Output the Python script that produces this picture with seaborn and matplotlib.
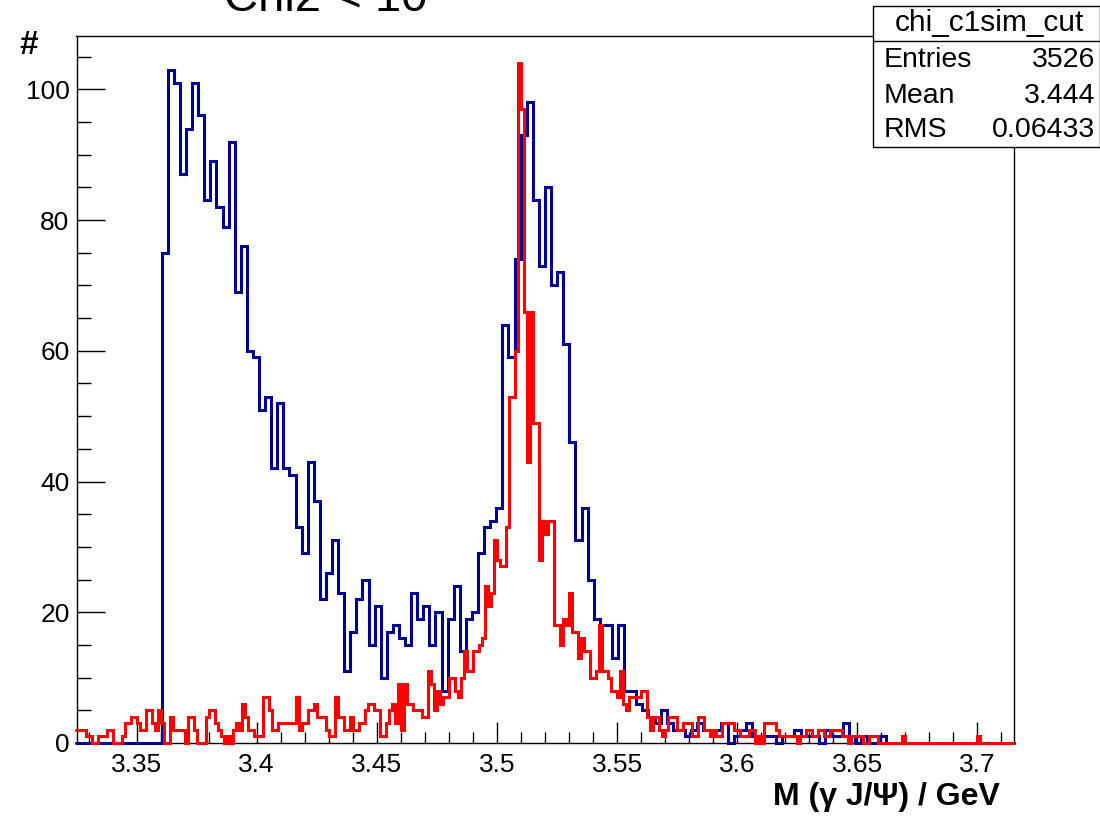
import numpy as np
import pandas as pd
import matplotlib
matplotlib.use("Agg")
import matplotlib.pyplot as plt
import seaborn as sns
from matplotlib.patches import Rectangle
from matplotlib.lines import Line2D
from matplotlib.ticker import FixedLocator, MultipleLocator

# Histogram range (GeV)
x_lo, x_hi = 3.325, 3.715

# Blue: 156 bins of 2.5 MeV
blue_counts = [
    0, 0, 0, 0, 0, 0, 0, 0, 0, 0, 0, 0, 0, 0,
    75, 103, 101, 87, 94, 101, 96, 83, 89, 82, 79, 92, 69, 76, 60, 59,
    51, 53, 42, 52, 42, 41, 33, 29, 43, 37, 22, 26, 31, 23, 11, 17,
    22, 25, 15, 21, 10, 17, 18, 16, 15, 23, 19, 21, 15, 20, 8, 19,
    24, 14, 19, 20, 29, 33, 34, 36, 64, 59, 74, 93, 98, 83, 73, 85,
    70, 72, 61, 46, 31, 36, 25, 19, 18, 18, 13, 18, 8, 8, 6, 5,
    4, 3, 5, 3, 2, 2, 1, 2, 3, 2, 2, 2, 3, 0, 1, 2,
    3, 1, 1, 1, 1, 0, 1, 1, 2, 1, 1, 1, 0, 2, 1, 1,
    3, 1, 0, 1, 0, 0, 1, 0, 0, 0, 0, 0, 0, 0, 0, 0,
    0, 0, 0, 0, 0, 0, 0, 0, 0, 0, 0, 0,
]

# Red: 312 bins of 1.25 MeV
red_counts = [
    2, 2, 2, 1, 1, 0, 0, 1, 1, 1,
    2, 2, 0, 0, 0, 1, 3, 3, 4, 4,
    3, 2, 2, 5, 5, 3, 2, 5, 3, 0,
    0, 4, 2, 2, 2, 2, 0, 4, 4, 2,
    0, 0, 0, 4, 5, 5, 3, 2, 1, 0,
    1, 0, 2, 3, 2, 6, 4, 2, 2, 1,
    1, 1, 7, 7, 5, 2, 2, 3, 3, 3,
    3, 3, 3, 7, 2, 3, 3, 5, 5, 6,
    4, 4, 4, 2, 1, 1, 7, 4, 4, 2,
    2, 4, 2, 2, 3, 3, 5, 6, 6, 5,
    5, 1, 1, 3, 5, 6, 3, 9, 2, 9,
    6, 6, 5, 5, 5, 4, 4, 11, 9, 5,
    8, 6, 7, 7, 10, 10, 8, 7, 10, 14,
    11, 11, 14, 14, 15, 16, 24, 21, 23, 31,
    28, 27, 27, 33, 53, 53, 60, 104, 97, 66,
    43, 66, 49, 49, 28, 34, 32, 34, 34, 18,
    18, 15, 19, 18, 23, 17, 17, 13, 16, 14,
    14, 10, 10, 11, 18, 11, 11, 10, 8, 8,
    7, 11, 6, 5, 7, 7, 7, 7, 8, 8,
    4, 2, 4, 4, 2, 1, 2, 4, 4, 4,
    2, 2, 3, 3, 3, 1, 1, 4, 4, 2,
    2, 1, 2, 1, 1, 3, 3, 3, 3, 2,
    2, 1, 1, 1, 2, 2, 0, 1, 0, 3,
    3, 3, 3, 2, 1, 1, 1, 1, 1, 1,
    0, 1, 1, 2, 2, 1, 1, 2, 2, 1,
    1, 2, 2, 2, 2, 1, 1, 0, 1, 1,
    1, 1, 0, 0, 1, 1, 1, 0, 0, 0,
    0, 0, 0, 0, 0, 1, 0, 0, 0, 0,
    0, 0, 0, 0, 0, 0, 0, 0, 0, 0,
    0, 0, 0, 0, 0, 0, 0, 0, 0, 0,
    1, 0, 0, 0, 0, 0, 0, 0, 0, 0,
    0, 0,
]

x_major = [3.35, 3.4, 3.45, 3.5, 3.55, 3.6, 3.65, 3.7]
x_major_labels = ["3.35", "3.4", "3.45", "3.5", "3.55", "3.6", "3.65", "3.7"]
y_major = [0, 20, 40, 60, 80, 100]
y_major_labels = ["0", "20", "40", "60", "80", "100"]

title_text = "Chi2 < 10"
x_label = "M (\u03b3 J/\u03a8) / GeV"
y_label = "#"
stats_name = "chi_c1sim_cut"
stats_rows = [("Entries", "3526"), ("Mean", "3.444"), ("RMS", "0.06433")]

blue_color = "#000099"
red_color = "#ff0000"

sns.set_theme(style="white")
plt.rcParams["font.family"] = ["Liberation Sans", "DejaVu Sans"]

W, H = 1100, 816
fig = plt.figure(figsize=(W / 100, H / 100), dpi=100)
fig.patch.set_facecolor("white")

# frame in pixel units: left 76.5, right 1013.5, top 36, bottom 743
ax_l, ax_r, ax_t, ax_b = 76.5, 1013.5, 36.0, 743.0
ax = fig.add_axes([ax_l / W, 1 - ax_b / H, (ax_r - ax_l) / W, (ax_b - ax_t) / H])
ax.set_facecolor("white")


def hist_table(counts):
    n = len(counts)
    edges = np.linspace(x_lo, x_hi, n + 1)
    centers = 0.5 * (edges[:-1] + edges[1:])
    return pd.DataFrame({"mass": centers, "count": counts}), list(edges)


blue_df, blue_edges = hist_table(blue_counts)
red_df, red_edges = hist_table(red_counts)

sns.histplot(data=blue_df, x="mass", weights="count", bins=blue_edges,
             element="step", fill=False, color=blue_color, linewidth=2.2,
             ax=ax, zorder=3)
sns.histplot(data=red_df, x="mass", weights="count", bins=red_edges,
             element="step", fill=False, color=red_color, linewidth=2.2,
             ax=ax, zorder=4)
for ln in ax.lines:
    ln.set_clip_on(False)
    ln.set_solid_joinstyle("miter")

ax.set_xlim(x_lo, x_hi)
ax.set_ylim(0, 108.15)
ax.set_xlabel("")
ax.set_ylabel("")

for sp in ax.spines.values():
    sp.set_color("black")
    sp.set_linewidth(1.0)
    sp.set_zorder(2)

ax.xaxis.set_major_locator(FixedLocator(x_major))
ax.set_xticklabels(x_major_labels)
ax.xaxis.set_minor_locator(MultipleLocator(0.01))
ax.yaxis.set_major_locator(FixedLocator(y_major))
ax.set_yticklabels(y_major_labels)
ax.yaxis.set_minor_locator(MultipleLocator(5))

ax.tick_params(axis="x", which="major", direction="in", length=15.3, width=1.0,
               color="black", labelsize=19, pad=7, top=False, bottom=True)
ax.tick_params(axis="x", which="minor", direction="in", length=7.6, width=1.0,
               color="black", top=False, bottom=True)
ax.tick_params(axis="y", which="major", direction="in", length=20.2, width=1.0,
               color="black", labelsize=19, pad=5, left=True, right=False)
ax.tick_params(axis="y", which="minor", direction="in", length=10.1, width=1.0,
               color="black", left=True, right=False)
for lab in ax.get_xticklabels() + ax.get_yticklabels():
    lab.set_color("black")

# axis titles
fig.text(1000 / W, 1 - 797 / H, x_label, ha="right", va="center",
         fontsize=23, fontweight="bold", color="black")
fig.text(29 / W, 1 - 45 / H, y_label, ha="center", va="center",
         fontsize=24, fontweight="bold", color="black")

# title sitting mostly above the canvas
fig.text(326 / W, 1 - 11 / H, title_text, ha="center", va="baseline",
         fontsize=34, color="black")

# statistics box
bx_l, bx_r, bx_t, bx_b, bx_sep = 872.5, 1099.5, 6.0, 147.0, 40.5
fig.add_artist(Rectangle((bx_l / W, 1 - bx_b / H), (bx_r - bx_l) / W,
                         (bx_b - bx_t) / H, transform=fig.transFigure,
                         facecolor="white", edgecolor="black", linewidth=1.0,
                         zorder=10))
fig.add_artist(Line2D([bx_l / W, bx_r / W], [1 - bx_sep / H, 1 - bx_sep / H],
                      transform=fig.transFigure, color="black", linewidth=1.0,
                      zorder=11))
fig.text(989 / W, 1 - 23 / H, stats_name, ha="center", va="center",
         fontsize=21.5, color="black", zorder=12)
row_y = [60, 96, 130]
for (name, val), yy in zip(stats_rows, row_y):
    fig.text(884 / W, 1 - yy / H, name, ha="left", va="center",
             fontsize=20.5, color="black", zorder=12)
    fig.text(1095 / W, 1 - yy / H, val, ha="right", va="center",
             fontsize=20.5, color="black", zorder=12)

fig.savefig("out.png", dpi=100, facecolor="white")
